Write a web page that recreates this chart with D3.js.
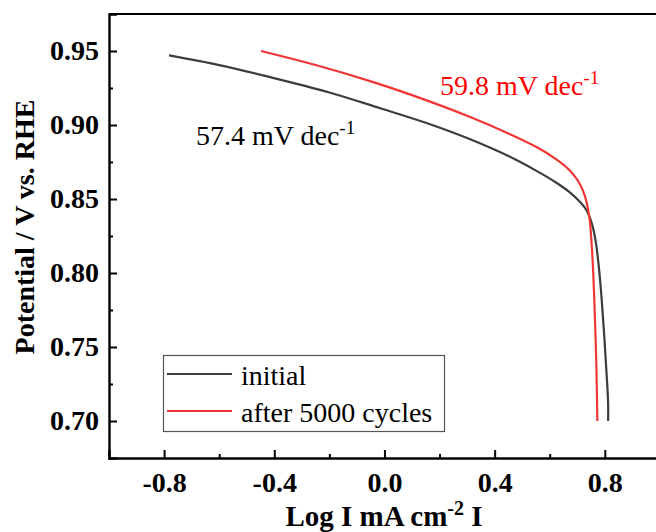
<!DOCTYPE html>
<html>
<head>
<meta charset="utf-8">
<script src="https://cdn.jsdelivr.net/npm/d3@7/dist/d3.min.js"></script>
<style>
  html, body { margin: 0; padding: 0; background: #fff; }
  svg { display: block; }
  text { font-family: "Liberation Serif", "Times New Roman", serif; }
</style>
</head>
<body>
<svg id="chart" width="656" height="532"></svg>
<script>
// Tafel plot data: log current density (x) vs potential (y)
const initialLogI = [-0.782, -0.60, -0.43, -0.20, -0.018, 0.15, 0.309, 0.45, 0.552, 0.62, 0.673, 0.71, 0.735, 0.755, 0.768, 0.782, 0.797, 0.807, 0.812, 0.812];
const initialE    = [0.947, 0.9405, 0.933, 0.922, 0.9115, 0.9015, 0.8905, 0.879, 0.869, 0.8615, 0.8545, 0.848, 0.842, 0.832, 0.820, 0.797, 0.760, 0.730, 0.712, 0.700];

const cycledLogI = [-0.448, -0.25, -0.055, 0.10, 0.309, 0.45, 0.552, 0.62, 0.673, 0.70, 0.72, 0.735, 0.745, 0.752, 0.758, 0.764, 0.769, 0.773];
const cycledE    = [0.950, 0.9405, 0.9298, 0.9202, 0.9056, 0.8943, 0.8851, 0.8773, 0.8693, 0.863, 0.856, 0.847, 0.836, 0.820, 0.800, 0.770, 0.740, 0.700];

const seriesNames = ["initial", "after 5000 cycles"];
const slopeLabels = ["57.4", "59.8"];

const xMajorTicks = [-0.8, -0.4, 0.0, 0.4, 0.8];
const xMinorTicks = [-0.6, -0.2, 0.2, 0.6, 1.0];
const yMajorTicks = [0.70, 0.75, 0.80, 0.85, 0.90, 0.95];
const yMinorTicks = [0.725, 0.775, 0.825, 0.875, 0.925];

const svg = d3.select("#chart");
const plotLeft = 109, plotRight = 715, plotTop = 14, plotBottom = 458;

const x = d3.scaleLinear().domain([-1.0, 1.2]).range([plotLeft, plotRight]);
const y = d3.scaleLinear().domain([0.675, 0.975]).range([plotBottom, plotTop]);

const black = "#3d3d3d", red = "#f03535";

// frame (top edge; right edge lies beyond the view)
svg.append("line").attr("x1", plotLeft).attr("x2", plotRight).attr("y1", plotTop).attr("y2", plotTop)
  .attr("stroke", "#000").attr("stroke-width", 2.2);

// bottom axis, ticks pointing inward
svg.append("g").attr("transform", `translate(0,${plotBottom})`)
  .call(d3.axisBottom(x).tickValues(xMajorTicks).tickSize(-8).tickPadding(14)
    .tickFormat(d => d.toFixed(1)));
svg.append("g").attr("transform", `translate(0,${plotBottom})`)
  .call(d3.axisBottom(x).tickValues(xMinorTicks).tickSize(-4).tickFormat(""))
  .select(".domain").remove();

// left axis, ticks pointing inward
svg.append("g").attr("transform", `translate(${plotLeft},0)`)
  .call(d3.axisLeft(y).tickValues(yMajorTicks).tickSize(-8).tickPadding(10)
    .tickFormat(d => d.toFixed(2)));
svg.append("g").attr("transform", `translate(${plotLeft},0)`)
  .call(d3.axisLeft(y).tickValues(yMinorTicks).tickSize(-4).tickFormat(""))
  .select(".domain").remove();

svg.selectAll(".domain").attr("stroke-width", 2.4).attr("stroke", "#000");
svg.selectAll(".tick line").attr("stroke-width", 2).attr("stroke", "#000");
svg.selectAll(".tick text")
  .attr("font-family", "'Liberation Serif', 'Times New Roman', serif")
  .attr("font-size", 28).attr("font-weight", "bold").attr("fill", "#000");

// curves
const line = d3.line().x(d => x(d[0])).y(d => y(d[1])).curve(d3.curveCatmullRom.alpha(0.5));
const initialPts = initialLogI.map((v, i) => [v, initialE[i]]);
const cycledPts = cycledLogI.map((v, i) => [v, cycledE[i]]);

svg.append("path").datum(initialPts).attr("d", line)
  .attr("fill", "none").attr("stroke", black).attr("stroke-width", 2.2);
svg.append("path").datum(cycledPts).attr("d", line)
  .attr("fill", "none").attr("stroke", red).attr("stroke-width", 2.2);

// Tafel slope annotations
function slopeText(xPos, yPos, value, color) {
  const t = svg.append("text").attr("x", xPos).attr("y", yPos)
    .attr("font-size", 28).attr("fill", color);
  t.append("tspan").text(value + " mV dec");
  t.append("tspan").attr("font-size", 19).attr("dy", -11).text("-1");
}
slopeText(196, 145, slopeLabels[0], "#000");
slopeText(440, 95, slopeLabels[1], "#ff0000");

// legend
const legend = svg.append("g");
legend.append("rect").attr("x", 163.5).attr("y", 355.5).attr("width", 281).attr("height", 76)
  .attr("fill", "#fff").attr("stroke", "#555").attr("stroke-width", 1.2);
[black, red].forEach((c, i) => {
  const ly = 374 + i * 37;
  legend.append("line").attr("x1", 167).attr("x2", 232).attr("y1", ly).attr("y2", ly)
    .attr("stroke", c).attr("stroke-width", 2.2);
  legend.append("text").attr("x", 241).attr("y", ly + 11)
    .attr("font-size", 28).attr("fill", "#000").text(seriesNames[i]);
});

// axis titles
const xt = svg.append("text").attr("x", 384).attr("y", 526).attr("text-anchor", "middle")
  .attr("font-size", 29).attr("font-weight", "bold");
xt.append("tspan").text("Log I mA cm");
xt.append("tspan").attr("font-size", 20).attr("dy", -11).text("-2");
xt.append("tspan").attr("dy", 11).text(" I");

svg.append("text").attr("transform", "translate(34,227) rotate(-90)")
  .attr("text-anchor", "middle").attr("font-size", 28).attr("font-weight", "bold")
  .text("Potential / V vs. RHE");
</script>
</body>
</html>
